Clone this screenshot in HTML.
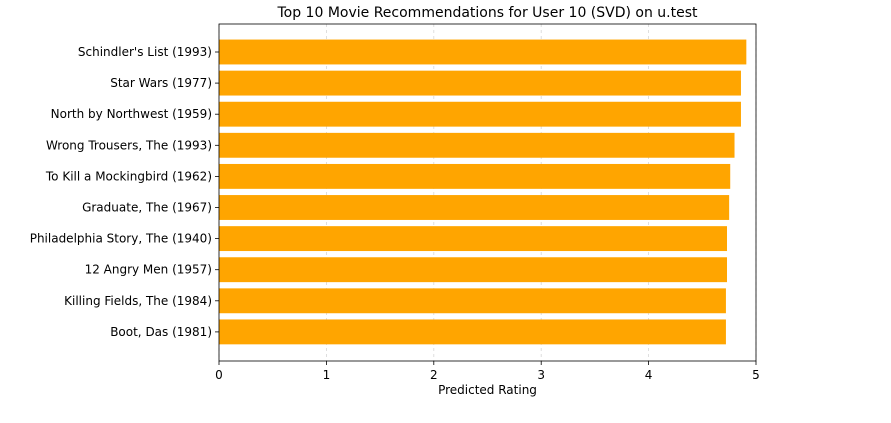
<!DOCTYPE html>
<html><head><meta charset="utf-8"><style>
body{margin:0;background:#fff;width:891px;height:418px;overflow:hidden;font-family:"Liberation Sans","DejaVu Sans",sans-serif}
svg text{font-family:"DejaVu Sans","Liberation Sans",sans-serif}
</style></head><body>
<svg id="chart" width="891" height="418" xmlns="http://www.w3.org/2000/svg"></svg>
<script>
const movies=["Schindler's List (1993)","Star Wars (1977)","North by Northwest (1959)","Wrong Trousers, The (1993)","To Kill a Mockingbird (1962)","Graduate, The (1967)","Philadelphia Story, The (1940)","12 Angry Men (1957)","Killing Fields, The (1984)","Boot, Das (1981)"];
const ratings=[4.91,4.86,4.86,4.80,4.76,4.75,4.73,4.73,4.72,4.72];
const xTicks=[0,1,2,3,4,5];
const svg=document.getElementById('chart');
const NS='http://www.w3.org/2000/svg';
const L=219,R=756,T=24,B=361;
const xs=v=>L+(v/5)*(R-L);
const step=31.1, y0=52;
const ys=i=>y0+i*step;
function mk(tag,attrs){const e=document.createElementNS(NS,tag);for(const k in attrs)e.setAttribute(k,attrs[k]);svg.appendChild(e);return e;}
xTicks.forEach(t=>{
  const g=mk('line',{x1:xs(t),x2:xs(t),y1:T,y2:B,stroke:'#b0b0b0','stroke-width':0.8,'stroke-dasharray':'3,3','stroke-opacity':0.5});
  
  
  const tk=mk('line',{x1:xs(t),x2:xs(t),y1:B,y2:B+4,stroke:'#000','stroke-width':0.8});
  
  
  const tl=mk('text',{x:xs(t),y:B+18,'text-anchor':'middle','font-size':12});
  tl.textContent=t;
  
  
});
movies.forEach((m,i)=>{
  const h=step*0.8;
  const b=mk('rect',{x:L,y:ys(i)-h/2,width:xs(ratings[i])-L,height:h,fill:'#ffa500'});
  
  
  const tk=mk('line',{x1:L-4,x2:L,y1:ys(i),y2:ys(i),stroke:'#000','stroke-width':0.8});
  
  
  const tl=mk('text',{x:L-7,y:ys(i)+4,'text-anchor':'end','font-size':12});
  tl.textContent=m;
  
  
});
const f=mk('rect',{x:L,y:T,width:R-L,height:B-T,fill:'none',stroke:'#000','stroke-width':0.8});


const ti=mk('text',{x:(L+R)/2,y:17,'text-anchor':'middle','font-size':14});
ti.textContent='Top 10 Movie Recommendations for User 10 (SVD) on u.test';


const xl=mk('text',{x:(L+R)/2,y:394,'text-anchor':'middle','font-size':12});
xl.textContent='Predicted Rating';


</script>
</body></html>
